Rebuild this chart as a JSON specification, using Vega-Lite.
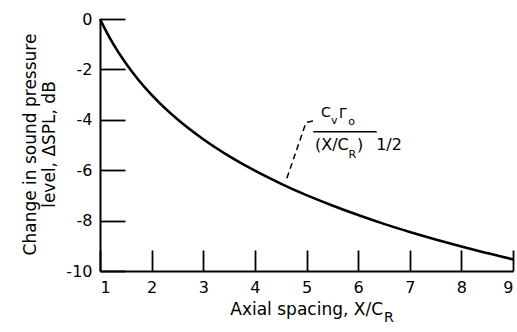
{
  "$schema": "https://vega.github.io/schema/vega-lite/v6.json",
  "width": 413,
  "height": 252,
  "autosize": {"type": "none"},
  "padding": {"left": 100, "top": 19, "right": 4, "bottom": 61},
  "config": {
    "view": {"stroke": null},
    "font": "DejaVu Sans",
    "axis": {
      "grid": false,
      "domainColor": "#000",
      "domainWidth": 2,
      "tickColor": "#000",
      "tickWidth": 1.8,
      "labelColor": "#000",
      "labelFontSize": 16,
      "labelFont": "DejaVu Sans",
      "titleColor": "#000",
      "titleFont": "DejaVu Sans",
      "titleFontWeight": "normal"
    }
  },
  "datasets": {
    "curve": [
      {"x": 1, "y": 0}, {"x": 1.1, "y": -0.41}, {"x": 1.25, "y": -0.97}, {"x": 1.5, "y": -1.76},
      {"x": 1.75, "y": -2.43}, {"x": 2, "y": -3.01}, {"x": 2.5, "y": -3.98}, {"x": 3, "y": -4.77},
      {"x": 3.5, "y": -5.44}, {"x": 4, "y": -6.02}, {"x": 4.5, "y": -6.53}, {"x": 5, "y": -6.99},
      {"x": 5.5, "y": -7.40}, {"x": 6, "y": -7.78}, {"x": 6.5, "y": -8.13}, {"x": 7, "y": -8.45},
      {"x": 7.5, "y": -8.75}, {"x": 8, "y": -9.03}, {"x": 8.5, "y": -9.29}, {"x": 9, "y": -9.54}
    ],
    "leader": [
      {"i": 0, "x": 4.62, "y": -6.32},
      {"i": 1, "x": 4.99, "y": -4.11},
      {"i": 2, "x": 5.15, "y": -4.04}
    ],
    "numText": [
      {"t": "C", "x": 5.281, "y": -3.889},
      {"t": "Γ", "x": 5.630, "y": -3.929}
    ],
    "denText": [
      {"t": "(X/C", "x": 5.165, "y": -5.198},
      {"t": ")", "x": 5.98, "y": -5.198},
      {"t": "1/2", "x": 6.35, "y": -5.198}
    ],
    "subText": [
      {"t": "v", "x": 5.475, "y": -4.167},
      {"t": "o", "x": 5.81, "y": -4.206},
      {"t": "R", "x": 5.814, "y": -5.516}
    ],
    "bar": [{"x": 5.13, "x2": 6.36, "y": -4.47}],
    "xTitle": [{"t": "Axial spacing, X/C", "x": 6.482, "y": -11.746}],
    "xTitleSub": [{"t": "R", "x": 6.501, "y": -12.01}]
  },
  "layer": [
    {
      "data": {"name": "curve"},
      "mark": {"type": "line", "color": "#000", "strokeWidth": 2.6, "interpolate": "monotone"},
      "encoding": {
        "x": {
          "field": "x", "type": "quantitative",
          "scale": {"domain": [1, 9], "nice": false, "zero": false},
          "axis": {"values": [1, 2, 3, 4, 5, 6, 7, 8, 9], "tickSize": -21, "labelPadding": 29, "title": null}
        },
        "y": {
          "field": "y", "type": "quantitative",
          "scale": {"domain": [-10, 0], "nice": false, "zero": false},
          "axis": {
            "values": [0, -2, -4, -6, -8, -10],
            "labelExpr": "replace(datum.label, '\u2212', '-')",
            "tickSize": -25,
            "labelPadding": 33,
            "title": ["Change in sound pressure", "level, ΔSPL, dB"],
            "titleFontSize": 17,
            "titleLineHeight": 19,
            "titleAngle": 270,
            "titleAlign": "center",
            "titleBaseline": "alphabetic",
            "titleX": -65,
            "titleY": 125
          }
        }
      }
    },
    {
      "data": {"name": "leader"},
      "mark": {"type": "line", "color": "#000", "strokeWidth": 1.5, "strokeDash": [6, 4]},
      "encoding": {
        "x": {"field": "x", "type": "quantitative"},
        "y": {"field": "y", "type": "quantitative"},
        "order": {"field": "i"}
      }
    },
    {
      "data": {"name": "bar"},
      "mark": {"type": "rule", "color": "#000", "strokeWidth": 1.5},
      "encoding": {
        "x": {"field": "x", "type": "quantitative"},
        "x2": {"field": "x2"},
        "y": {"field": "y", "type": "quantitative"}
      }
    },
    {
      "data": {"name": "numText"},
      "mark": {"type": "text", "fontSize": 14, "align": "left", "baseline": "alphabetic", "color": "#000"},
      "encoding": {
        "x": {"field": "x", "type": "quantitative"},
        "y": {"field": "y", "type": "quantitative"},
        "text": {"field": "t"}
      }
    },
    {
      "data": {"name": "denText"},
      "mark": {"type": "text", "fontSize": 16, "align": "left", "baseline": "alphabetic", "color": "#000"},
      "encoding": {
        "x": {"field": "x", "type": "quantitative"},
        "y": {"field": "y", "type": "quantitative"},
        "text": {"field": "t"}
      }
    },
    {
      "data": {"name": "subText"},
      "mark": {"type": "text", "fontSize": 11, "align": "left", "baseline": "alphabetic", "color": "#000"},
      "encoding": {
        "x": {"field": "x", "type": "quantitative"},
        "y": {"field": "y", "type": "quantitative"},
        "text": {"field": "t"}
      }
    },
    {
      "data": {"name": "xTitle"},
      "mark": {"type": "text", "fontSize": 17, "align": "right", "baseline": "alphabetic", "color": "#000"},
      "encoding": {
        "x": {"field": "x", "type": "quantitative"},
        "y": {"field": "y", "type": "quantitative"},
        "text": {"field": "t"}
      }
    },
    {
      "data": {"name": "xTitleSub"},
      "mark": {"type": "text", "fontSize": 14, "align": "left", "baseline": "alphabetic", "color": "#000"},
      "encoding": {
        "x": {"field": "x", "type": "quantitative"},
        "y": {"field": "y", "type": "quantitative"},
        "text": {"field": "t"}
      }
    }
  ]
}
